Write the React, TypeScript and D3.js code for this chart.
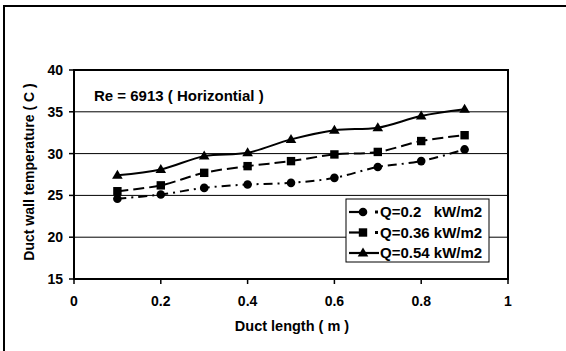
import React from "react";
import * as d3 from "d3";

const xValues = [0.1, 0.2, 0.3, 0.4, 0.5, 0.6, 0.7, 0.8, 0.9];
const seriesNames = ["Q=0.2   kW/m2", "Q=0.36 kW/m2", "Q=0.54 kW/m2"];
const q02 = [24.6, 25.1, 25.9, 26.3, 26.5, 27.1, 28.4, 29.1, 30.5];
const q036 = [25.5, 26.2, 27.7, 28.5, 29.1, 29.9, 30.2, 31.5, 32.2];
const q054 = [27.4, 28.1, 29.7, 30.1, 31.7, 32.8, 33.1, 34.5, 35.3];
const xTicks = [0, 0.2, 0.4, 0.6, 0.8, 1];
const yTicks = [15, 20, 25, 30, 35, 40];

const W = 566, H = 351;
const L = 74, R = 508, T = 70, B = 279;
const FONT = "'Liberation Sans', Arial, sans-serif";

function Marker({ kind, x, y }: { kind: string; x: number; y: number }) {
  if (kind === "circle") return <circle cx={x} cy={y} r={4.3} fill="#000" />;
  if (kind === "square") return <rect x={x - 4.2} y={y - 4.2} width={8.4} height={8.4} fill="#000" />;
  return <path d={`M${x},${y - 5.5}L${x + 5.3},${y + 3.5}L${x - 5.3},${y + 3.5}Z`} fill="#000" />;
}

export default function App() {
  const x = d3.scaleLinear().domain([0, 1]).range([L, R]);
  const y = d3.scaleLinear().domain([15, 40]).range([B, T]);
  const line = d3
    .line<number>()
    .x((_, i) => x(xValues[i]))
    .y((d) => y(d))
    .curve(d3.curveCatmullRom.alpha(0.5));
  const series = [
    { vals: q02, kind: "circle", dash: "9,5,2,5" },
    { vals: q036, kind: "square", dash: "11,5" },
    { vals: q054, kind: "triangle", dash: "none" },
  ];
  const legX = 346, legY = 199, legW = 143, legH = 63;
  return (
    <svg width={W} height={H} style={{ position: "absolute", left: 0, top: 0 }}>
      <rect x={0} y={0} width={W} height={H} fill="#fff" />
      <rect x={4} y={6} width={W + 10} height={H + 10} fill="none" stroke="#000" strokeWidth={2} />
      {yTicks.slice(1, -1).map((t) => (
        <line key={t} x1={L} x2={R} y1={y(t)} y2={y(t)} stroke="#000" strokeWidth={1} />
      ))}
      <rect x={L} y={T} width={R - L} height={B - T} fill="none" stroke="#000" strokeWidth={2} />
      {yTicks.map((t) => (
        <g key={t}>
          <line x1={L - 5} x2={L} y1={y(t)} y2={y(t)} stroke="#000" strokeWidth={1.5} />
          <text x={63} y={y(t) + 5} textAnchor="end" fontFamily={FONT} fontWeight="bold" fontSize={14}>
            {t}
          </text>
        </g>
      ))}
      {xTicks.map((t) => (
        <g key={t}>
          <line x1={x(t)} x2={x(t)} y1={B} y2={B + 5} stroke="#000" strokeWidth={1.5} />
          <text x={x(t)} y={306} textAnchor="middle" fontFamily={FONT} fontWeight="bold" fontSize={14}>
            {t}
          </text>
        </g>
      ))}
      <text x={292} y={331} textAnchor="middle" fontFamily={FONT} fontWeight="bold" fontSize={14.5}>
        Duct length ( m )
      </text>
      <text
        transform={`translate(34,172) rotate(-90)`}
        textAnchor="middle"
        fontFamily={FONT}
        fontWeight="bold"
        fontSize={14}
      >
        Duct wall temperature ( C )
      </text>
      <text x={94} y={101} fontFamily={FONT} fontWeight="bold" fontSize={15}>
        Re = 6913 ( Horizontial )
      </text>
      {series.map((s, i) => (
        <g key={i}>
          <path d={line(s.vals) || ""} fill="none" stroke="#000" strokeWidth={2} strokeDasharray={s.dash} />
          {s.vals.map((v, j) => (
            <Marker key={j} kind={s.kind} x={x(xValues[j])} y={y(v)} />
          ))}
        </g>
      ))}
      <rect x={legX} y={legY} width={legW} height={legH} fill="#fff" stroke="#000" strokeWidth={1} />
      {series.map((s, i) => {
        const ly = legY + 13 + i * 20.5;
        return (
          <g key={i}>
            <line x1={legX + 3} x2={legX + 20} y1={ly} y2={ly} stroke="#000" strokeWidth={2.2} />
            {s.dash !== "none" && <rect x={legX + 29} y={ly - 1.5} width={3} height={3} fill="#000" />}
            {s.dash === "none" && <line x1={legX + 17} x2={legX + 33} y1={ly} y2={ly} stroke="#000" strokeWidth={2.2} />}
            <Marker kind={s.kind} x={legX + 17} y={ly} />
            <text x={legX + 34} y={ly + 5} fontFamily={FONT} fontWeight="bold" fontSize={15} xmlSpace="preserve">
              {seriesNames[i]}
            </text>
          </g>
        );
      })}
    </svg>
  );
}
